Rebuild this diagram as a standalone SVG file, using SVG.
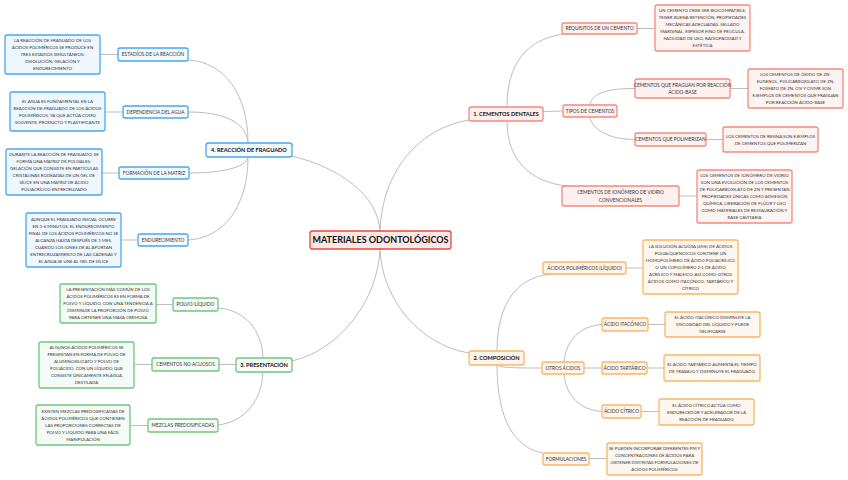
<svg xmlns="http://www.w3.org/2000/svg" width="848" height="480" viewBox="0 0 848 480">
<style>
text{font-family:Lato,"Open Sans","DejaVu Sans",sans-serif;fill:#333;text-anchor:middle}
.c{fill:none;stroke:#bdbdbd;stroke-width:1}
.t0{font-size:9px;font-weight:bold;fill:#111}
.t1{font-size:5.6px;font-weight:bold;fill:#111}
.t2{font-size:4.8px}
.td{font-size:4.4px}
rect{stroke-width:1.3}
.r0{fill:#fde8e6;stroke:#e2483d}
.r1{fill:#fdf0ee;stroke:#f48a7c}
.rd1{fill:#fdf3f1;stroke:#f48a7c}
.o1{fill:#fef4ea;stroke:#fbb565}
.od{fill:#fef7ef;stroke:#fbb565}
.g1{fill:#f6fbf6;stroke:#70c77e}
.gd{fill:#f4faf5;stroke:#70c77e}
.b1{fill:#f4f9ff;stroke:#4ba7ee}
.bd{fill:#eef6fe;stroke:#4ba7ee}
</style>
<rect width="848" height="480" fill="#fff" stroke="none"/>
<g id="connectors">
<path class="c" d="M380,231 C382,170 420,128 469,120"/>
<path class="c" d="M292,156 C340,168 378,195 380,231"/>
<path class="c" d="M380,249 C378,300 340,350 292,361"/>
<path class="c" d="M380,249 C382,300 420,345 469,353"/>
<path class="c" d="M507,107 C507,65 525,40 563,34"/>
<path class="c" d="M543,111.5 L563,111"/>
<path class="c" d="M507,121 C507,160 530,182 567,186"/>
<path class="c" d="M590,105 C592,92 610,88.5 635,88.5"/>
<path class="c" d="M590,117 C592,130 610,139.5 635,139.5"/>
<path class="c" d="M637,28.5 L655,28.5"/>
<path class="c" d="M730,88.5 L748,88.5"/>
<path class="c" d="M706,139.5 L723,139.5"/>
<path class="c" d="M679,196 L697,196"/>
<path class="c" d="M497,351 C497,300 520,276 552,274"/>
<path class="c" d="M497,365 C500,368 520,368 542,368"/>
<path class="c" d="M497,365 C497,420 515,448 543,453"/>
<path class="c" d="M626,268 L643,268"/>
<path class="c" d="M564,362 C566,340 580,326 602,324.5"/>
<path class="c" d="M584,368 L602,368"/>
<path class="c" d="M564,374 C566,396 580,410 602,411.5"/>
<path class="c" d="M648,324.5 L665,324.5"/>
<path class="c" d="M647,368 L664,368"/>
<path class="c" d="M641,411.5 L659,411.5"/>
<path class="c" d="M589,458.5 L607,458.5"/>
<path class="c" d="M248,143 C248,95 225,62 188,60"/>
<path class="c" d="M248,143 C246,120 220,112 188,112"/>
<path class="c" d="M248,157 C246,168 220,173 189,173"/>
<path class="c" d="M248,157 C248,205 225,238 188,240"/>
<path class="c" d="M100,54.5 L118,54.5"/>
<path class="c" d="M105,112 L123,112"/>
<path class="c" d="M102,173 L119,173"/>
<path class="c" d="M121,240 L138,240"/>
<path class="c" d="M263,358 C262,330 245,310 218,308"/>
<path class="c" d="M219,364.5 L236,364.5"/>
<path class="c" d="M263,372 C262,400 245,422 218,425"/>
<path class="c" d="M156,304.5 L173,304.5"/>
<path class="c" d="M134,364.5 L152,364.5"/>
<path class="c" d="M130,425.5 L148,425.5"/>
</g>

<g id="central"><rect class="r0" x="310" y="231" width="141" height="18" rx="2.5"/><text class="t0" x="380.5" y="243.3">MATERIALES ODONTOLÓGICOS</text></g>

<g id="n1"><rect class="r1" x="469" y="107" width="74" height="14" rx="2.5"/><text class="t1" x="506" y="116">1. CEMENTOS DENTALES</text></g>
<g id="n2"><rect class="o1" x="469" y="351" width="55" height="14" rx="2.5"/><text class="t1" x="496.5" y="360">2. COMPOSICIÓN</text></g>
<g id="n3"><rect class="g1" x="236" y="358" width="56" height="14" rx="2.5"/><text class="t1" x="264" y="367">3. PRESENTACIÓN</text></g>
<g id="n4"><rect class="b1" x="206" y="143" width="86" height="14" rx="2.5"/><text class="t1" x="249" y="152">4. REACCIÓN DE FRAGUADO</text></g>

<g id="req"><rect class="r1" x="562" y="23" width="75" height="11" rx="2"/><text class="t2" x="599.5" y="30.2">REQUISITOS DE UN CEMENTO</text></g>
<g id="req-d"><rect class="rd1" x="655" y="5" width="95" height="46" rx="2"/><text class="td" x="702.5" y="12.1"><tspan x="702.5">UN CEMENTO DEBE SER BIOCOMPATIBLE,</tspan><tspan x="702.5" dy="7">TENER BUENA RETENCIÓN, PROPIEDADES</tspan><tspan x="702.5" dy="7">MECÁNICAS ADECUADAS, SELLADO</tspan><tspan x="702.5" dy="7">MARGINAL, ESPESOR FINO DE PELÍCULA,</tspan><tspan x="702.5" dy="7">FACILIDAD DE USO, RADIOPACIDAD Y</tspan><tspan x="702.5" dy="7">ESTÉTICA</tspan></text></g>
<g id="tipos"><rect class="r1" x="563" y="105" width="54" height="12" rx="2"/><text class="t2" x="590" y="112.7">TIPOS DE CEMENTOS</text></g>
<g id="ab"><rect class="r1" x="635" y="79" width="95" height="19" rx="2"/><text class="t2" x="682.5" y="86.8"><tspan x="682.5">CEMENTOS QUE FRAGUAN POR REACCIÓN</tspan><tspan x="682.5" dy="7">ÁCIDO-BASE</tspan></text></g>
<g id="ab-d"><rect class="rd1" x="748" y="69" width="95" height="39" rx="2"/><text class="td" x="795.5" y="76.1"><tspan x="795.5">LOS CEMENTOS DE ÓXIDO DE ZN-</tspan><tspan x="795.5" dy="7">EUGENOL, POLICARBOXILATO DE ZN,</tspan><tspan x="795.5" dy="7">FOSFATO DE ZN, CIV Y CIVMR SON</tspan><tspan x="795.5" dy="7">EJEMPLOS DE CEMENTOS QUE FRAGUAN</tspan><tspan x="795.5" dy="7">POR REACCIÓN ÁCIDO-BASE</tspan></text></g>
<g id="poli"><rect class="r1" x="635" y="133" width="71" height="13" rx="2"/><text class="t2" x="670.5" y="141.2">CEMENTOS QUE POLIMERIZAN</text></g>
<g id="poli-d"><rect class="rd1" x="723" y="127" width="95" height="25" rx="2"/><text class="td" x="770.5" y="137.5"><tspan x="770.5">LOS CEMENTOS DE RESINA SON EJEMPLOS</tspan><tspan x="770.5" dy="7">DE CEMENTOS QUE POLIMERIZAN</tspan></text></g>
<g id="ion"><rect class="r1" x="562" y="186" width="117" height="20" rx="2"/><text class="t2" x="620.5" y="194.2"><tspan x="620.5">CEMENTOS DE IONÓMERO DE VIDRIO</tspan><tspan x="620.5" dy="7.6">CONVENCIONALES</tspan></text></g>
<g id="ion-d"><rect class="rd1" x="697" y="170" width="95" height="53" rx="2"/><text class="td" x="744.5" y="177.1"><tspan x="744.5">LOS CEMENTOS DE IONÓMERO DE VIDRIO</tspan><tspan x="744.5" dy="7">SON UNA EVOLUCIÓN DE LOS CEMENTOS</tspan><tspan x="744.5" dy="7">DE POLICARBOXILATO DE ZN Y PRESENTAN</tspan><tspan x="744.5" dy="7">PROPIEDADES ÚNICAS COMO ADHESIÓN</tspan><tspan x="744.5" dy="7">QUÍMICA, LIBERACIÓN DE FLÚOR Y USO</tspan><tspan x="744.5" dy="7">COMO MATERIALES DE RESTAURACIÓN Y</tspan><tspan x="744.5" dy="7">BASE CAVITARIA</tspan></text></g>

<g id="acpol"><rect class="o1" x="543" y="262" width="83" height="12" rx="2"/><text class="t2" x="584.5" y="269.7">ÁCIDOS POLIMÉRICOS (LÍQUIDO)</text></g>
<g id="acpol-d"><rect class="od" x="643" y="240" width="95" height="54" rx="2"/><text class="td" x="690.5" y="247.6"><tspan x="690.5">LA SOLUCIÓN ACUOSA (45%) DE ÁCIDOS</tspan><tspan x="690.5" dy="7">POLIALQUENOICOS CONTIENE UN</tspan><tspan x="690.5" dy="7">HOMOPOLÍMERO DE ÁCIDO POLIACRÍLICO</tspan><tspan x="690.5" dy="7">O UN COPOLÍMERO 2:1 DE ÁCIDO</tspan><tspan x="690.5" dy="7">ACRÍLICO Y MALEICO, ASÍ COMO OTROS</tspan><tspan x="690.5" dy="7">ÁCIDOS COMO ITACÓNICO, TARTÁRICO Y</tspan><tspan x="690.5" dy="7">CÍTRICO</tspan></text></g>
<g id="otros"><rect class="o1" x="542" y="362" width="42" height="12" rx="2"/><text class="t2" x="563" y="369.7">OTROS ÁCIDOS</text></g>
<g id="itac"><rect class="o1" x="602" y="318" width="46" height="13" rx="2"/><text class="t2" x="625" y="326.2">ÁCIDO ITACÓNICO</text></g>
<g id="itac-d"><rect class="od" x="665" y="312" width="95" height="25" rx="2"/><text class="td" x="712.5" y="319.1"><tspan x="712.5">EL ÁCIDO ITACÓNICO DISMINUYE LA</tspan><tspan x="712.5" dy="7">VISCOSIDAD DEL LÍQUIDO Y PUEDE</tspan><tspan x="712.5" dy="7">GELIFICARSE</tspan></text></g>
<g id="tart"><rect class="o1" x="602" y="362" width="45" height="12" rx="2"/><text class="t2" x="624.5" y="369.7">ÁCIDO TARTÁRICO</text></g>
<g id="tart-d"><rect class="od" x="664" y="355" width="96" height="26" rx="2"/><text class="td" x="712" y="366.1"><tspan x="712">EL ÁCIDO TARTÁRICO AUMENTA EL TIEMPO</tspan><tspan x="712" dy="7">DE TRABAJO Y DISMINUYE EL FRAGUADO</tspan></text></g>
<g id="citr"><rect class="o1" x="602" y="405" width="39" height="13" rx="2"/><text class="t2" x="621.5" y="413.2">ÁCIDO CÍTRICO</text></g>
<g id="citr-d"><rect class="od" x="659" y="399" width="95" height="26" rx="2"/><text class="td" x="706.5" y="406.6"><tspan x="706.5">EL ÁCIDO CÍTRICO ACTÚA COMO</tspan><tspan x="706.5" dy="7">ENDURECEDOR Y ACELERADOR DE LA</tspan><tspan x="706.5" dy="7">REACCIÓN DE FRAGUADO</tspan></text></g>
<g id="form"><rect class="o1" x="543" y="453" width="46" height="12" rx="2"/><text class="t2" x="566" y="460.7">FORMULACIONES</text></g>
<g id="form-d"><rect class="od" x="607" y="443" width="95" height="32" rx="2"/><text class="td" x="654.5" y="450.1"><tspan x="654.5">SE PUEDEN INCORPORAR DIFERENTES PM Y</tspan><tspan x="654.5" dy="7">CONCENTRACIONES DE ÁCIDOS PARA</tspan><tspan x="654.5" dy="7">OBTENER DISTINTAS FORMULACIONES DE</tspan><tspan x="654.5" dy="7">ÁCIDOS POLIMÉRICOS</tspan></text></g>

<g id="est"><rect class="b1" x="118" y="48" width="70" height="13" rx="2"/><text class="t2" x="153" y="56.2">ESTADÍOS DE LA REACCIÓN</text></g>
<g id="est-d"><rect class="bd" x="5" y="35" width="95" height="39" rx="2"/><text class="td" x="52.5" y="42.1"><tspan x="52.5">LA REACCIÓN DE FRAGUADO DE LOS</tspan><tspan x="52.5" dy="7">ÁCIDOS POLIMÉRICOS SE PRODUCE EN</tspan><tspan x="52.5" dy="7">TRES ESTADIOS SIMULTÁNEOS:</tspan><tspan x="52.5" dy="7">DISOLUCIÓN, GELACIÓN Y</tspan><tspan x="52.5" dy="7">ENDURECIMIENTO</tspan></text></g>
<g id="dep"><rect class="b1" x="123" y="106" width="65" height="12" rx="2"/><text class="t2" x="155.5" y="113.7">DEPENDENCIA DEL AGUA</text></g>
<g id="dep-d"><rect class="bd" x="10" y="92" width="95" height="39" rx="2"/><text class="td" x="57.5" y="102.6"><tspan x="57.5">EL AGUA ES FUNDAMENTAL EN LA</tspan><tspan x="57.5" dy="7">REACCIÓN DE FRAGUADO DE LOS ÁCIDOS</tspan><tspan x="57.5" dy="7">POLIMÉRICOS, YA QUE ACTÚA COMO</tspan><tspan x="57.5" dy="7">SOLVENTE, PRODUCTO Y PLASTIFICANTE</tspan></text></g>
<g id="mat"><rect class="b1" x="119" y="167" width="70" height="12" rx="2"/><text class="t2" x="154" y="174.7">FORMACIÓN DE LA MATRIZ</text></g>
<g id="mat-d"><rect class="bd" x="6" y="149" width="96" height="46" rx="2"/><text class="td" x="54" y="156.1"><tspan x="54">DURANTE LA REACCIÓN DE FRAGUADO, SE</tspan><tspan x="54" dy="7">FORMA UNA MATRIZ DE POLISALES-</tspan><tspan x="54" dy="7">GELACIÓN QUE CONSISTE EN PARTÍCULAS</tspan><tspan x="54" dy="7">CRISTALINAS RODEADAS DE UN GEL DE</tspan><tspan x="54" dy="7">SÍLICE EN UNA MATRIZ DE ÁCIDO</tspan><tspan x="54" dy="7">POLIACRÍLICO ENTRECRUZADO</tspan></text></g>
<g id="end"><rect class="b1" x="138" y="234" width="50" height="12" rx="2"/><text class="t2" x="163" y="241.7">ENDURECIMIENTO</text></g>
<g id="end-d"><rect class="bd" x="26" y="213" width="95" height="54" rx="2"/><text class="td" x="73.5" y="220.6"><tspan x="73.5">AUNQUE EL FRAGUADO INICIAL OCURRE</tspan><tspan x="73.5" dy="7">EN 3-6 MINUTOS, EL ENDURECIMIENTO</tspan><tspan x="73.5" dy="7">FINAL DE LOS ÁCIDOS POLIMÉRICOS NO SE</tspan><tspan x="73.5" dy="7">ALCANZA HASTA DESPUÉS DE 1 MES,</tspan><tspan x="73.5" dy="7">CUANDO LOS IONES DE AL APORTAN</tspan><tspan x="73.5" dy="7">ENTRECRUZAMIENTO DE LAS CADENAS Y</tspan><tspan x="73.5" dy="7">EL AGUA SE UNE AL GEL DE SÍLICE</tspan></text></g>

<g id="polvo"><rect class="g1" x="173" y="298" width="45" height="13" rx="2"/><text class="t2" x="195.5" y="306.2">POLVO/LÍQUIDO</text></g>
<g id="polvo-d"><rect class="gd" x="60" y="284" width="96" height="39" rx="2"/><text class="td" x="108" y="291.1"><tspan x="108">LA PRESENTACIÓN MÁS COMÚN DE LOS</tspan><tspan x="108" dy="7">ÁCIDOS POLIMÉRICOS ES EN FORMA DE</tspan><tspan x="108" dy="7">POLVO Y LÍQUIDO, CON UNA TENDENCIA A</tspan><tspan x="108" dy="7">DISMINUIR LA PROPORCIÓN DE POLVO</tspan><tspan x="108" dy="7">PARA OBTENER UNA MASA CREMOSA</tspan></text></g>
<g id="noac"><rect class="g1" x="152" y="358" width="67" height="13" rx="2"/><text class="t2" x="185.5" y="366.2">CEMENTOS NO ACUOSOS</text></g>
<g id="noac-d"><rect class="gd" x="39" y="342" width="95" height="46" rx="2"/><text class="td" x="86.5" y="349.1"><tspan x="86.5">ALGUNOS ÁCIDOS POLIMÉRICOS SE</tspan><tspan x="86.5" dy="7">PRESENTAN EN FORMA DE POLVO DE</tspan><tspan x="86.5" dy="7">ALUMINOSILICATO Y POLVO DE</tspan><tspan x="86.5" dy="7">POLIÁCIDO, CON UN LÍQUIDO QUE</tspan><tspan x="86.5" dy="7">CONSISTE ÚNICAMENTE EN AGUA</tspan><tspan x="86.5" dy="7">DESTILADA</tspan></text></g>
<g id="mez"><rect class="g1" x="148" y="419" width="70" height="13" rx="2"/><text class="t2" x="183" y="427.2">MEZCLAS PREDOSIFICADAS</text></g>
<g id="mez-d"><rect class="gd" x="36" y="405" width="94" height="40" rx="2"/><text class="td" x="83" y="412.6"><tspan x="83">EXISTEN MEZCLAS PREDOSIFICADAS DE</tspan><tspan x="83" dy="7">ÁCIDOS POLIMÉRICOS QUE CONTIENEN</tspan><tspan x="83" dy="7">LAS PROPORCIONES CORRECTAS DE</tspan><tspan x="83" dy="7">POLVO Y LÍQUIDO PARA UNA FÁCIL</tspan><tspan x="83" dy="7">MANIPULACIÓN</tspan></text></g>
</svg>
